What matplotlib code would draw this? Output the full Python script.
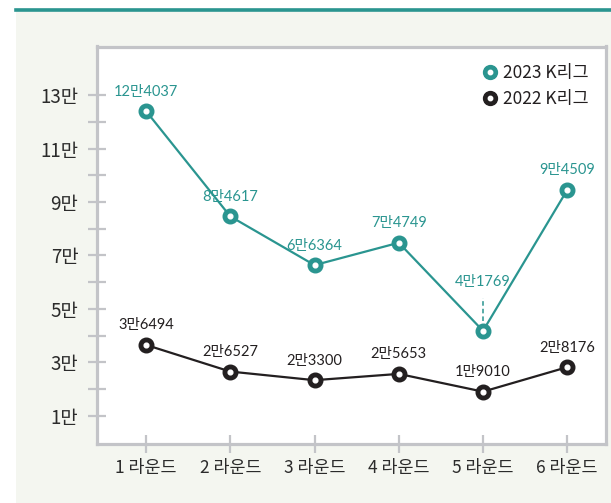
import matplotlib
matplotlib.use("Agg")
import matplotlib.pyplot as plt
from matplotlib.patches import Rectangle
from matplotlib.lines import Line2D

rounds = ["1 라운드", "2 라운드", "3 라운드", "4 라운드", "5 라운드", "6 라운드"]
k2023 = [124037, 84617, 66364, 74749, 41769, 94509]
k2022 = [36494, 26527, 23300, 25653, 19010, 28176]
labels2023 = ["12만4037", "8만4617", "6만6364", "7만4749", "4만1769", "9만4509"]
labels2022 = ["3만6494", "2만6527", "2만3300", "2만5653", "1만9010", "2만8176"]
ytick_vals = [1, 3, 5, 7, 9, 11, 13]
ytick_labels = ["1만", "3만", "5만", "7만", "9만", "11만", "13만"]
series_names = ["2023 K리그", "2022 K리그"]

TEAL = "#2a9590"
BLACK = "#231f20"
GRID = "#c3c4c8"
BG = "#f4f6f0"
TXT = "#2b2b2b"
KFONT = ["Noto Sans CJK KR", "DejaVu Sans"]
LFONT = ["Lato", "Noto Sans CJK KR", "DejaVu Sans"]

plt.rcParams['font.family'] = KFONT

fig = plt.figure(figsize=(6.11, 5.03), dpi=100)
fig.patch.set_facecolor("white")
fig.patches.append(Rectangle((16/611, 0), 1, 1 - 8/503, transform=fig.transFigure,
                             facecolor=BG, edgecolor="none", zorder=-5))
fig.lines.append(Line2D([16/611, 1], [1 - 10/503, 1 - 10/503], transform=fig.transFigure,
                        color=TEAL, lw=2.6, zorder=-4))

ax = fig.add_axes([97/611, 1 - 443.5/503, (606 - 97)/611, (443.5 - 46.5)/503])
ax.set_facecolor("white")
ax.set_zorder(1)

x = list(range(1, len(rounds) + 1))
y23 = [v / 10000 for v in k2023]
y22 = [v / 10000 for v in k2022]

for ys, col in [(y23, TEAL), (y22, BLACK)]:
    ax.plot(x, ys, color=col, lw=1.6, zorder=3)
    ax.plot(x, ys, "o", ms=10.5, color=col, mec=col, zorder=4)
    ax.plot(x, ys, "o", ms=3.4, color="white", mec="white", zorder=5)

for xi, yi, lab in zip(x, y23, labels2023):
    if xi == 5:
        ax.annotate(lab, (xi, yi), xytext=(0, 30), textcoords="offset points",
                    ha="center", va="bottom", color=TEAL, fontsize=10.5, family=LFONT)
        ax.plot([xi, xi], [yi + 0.37, yi + 1.22], color=TEAL, lw=1.1,
                ls=(0, (3, 2)), zorder=2)
    else:
        ax.annotate(lab, (xi, yi), xytext=(0, 9), textcoords="offset points",
                    ha="center", va="bottom", color=TEAL, fontsize=10.5, family=LFONT)
for xi, yi, lab in zip(x, y22, labels2022):
    ax.annotate(lab, (xi, yi), xytext=(0, 9), textcoords="offset points",
                ha="center", va="bottom", color=BLACK, fontsize=10.5, family=LFONT)

ax.set_xlim(0.418, 6.46)
ax.set_ylim(-0.04, 14.82)
ax.set_xticks(x)
ax.set_xticklabels(rounds)
ax.set_yticks(ytick_vals)
ax.set_yticklabels(ytick_labels)
ax.set_yticks([2, 4, 6, 8, 10, 12], minor=True)

for s in ax.spines.values():
    s.set_color(GRID)
    s.set_linewidth(2.3)

ax.tick_params(axis="both", which="both", direction="inout", length=13, width=1.6,
               color=GRID, labelcolor=TXT)
ax.tick_params(axis="x", pad=5, labelsize=12.5)
ax.tick_params(axis="y", pad=7, labelsize=13.5)

# legend
handles = []
for col in [TEAL, BLACK]:
    big = Line2D([], [], ls="none", marker="o", ms=10, color=col, mec=col)
    small = Line2D([], [], ls="none", marker="o", ms=3.2, color="white", mec="white")
    handles.append((big, small))
leg = ax.legend(handles, series_names, loc="upper right", frameon=False, fontsize=12.5,
                handletextpad=0.1, labelspacing=0.45, borderaxespad=0, borderpad=0,
                bbox_to_anchor=(0.965, 0.955),
                labelcolor=BLACK, handlelength=1.2)

fig.savefig("out.png", dpi=100, facecolor=fig.get_facecolor())
